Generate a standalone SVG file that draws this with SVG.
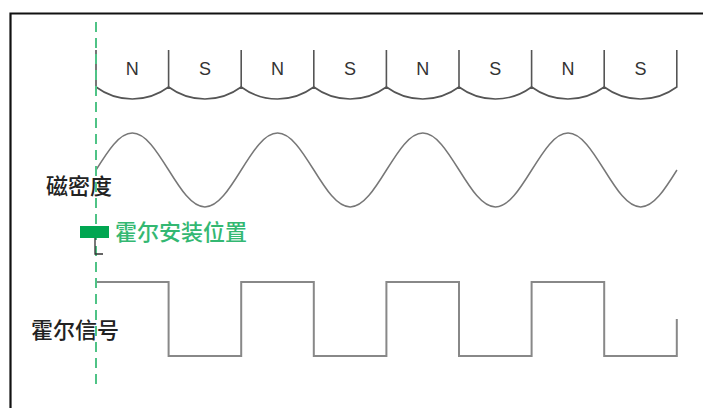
<svg xmlns="http://www.w3.org/2000/svg" width="703" height="408" viewBox="0 0 703 408">
<style>
.frame{stroke:#111;stroke-width:2.2;fill:none}
.mag{stroke:#555;stroke-width:1.6;fill:none}
.pole{font-family:"Liberation Sans",Arial,sans-serif;font-size:18px;fill:#333;text-anchor:middle}
.wave{stroke:#777;stroke-width:1.5;fill:none}
.sq{stroke:#888;stroke-width:2;fill:none}
.lbl{font-family:"Noto Sans CJK SC","Noto Sans",sans-serif;font-size:22px;font-weight:500;fill:#222}
.glbl{font-family:"Noto Sans CJK SC","Noto Sans",sans-serif;font-size:22px;font-weight:500;fill:#33b872}
.dash{stroke:#4fc386;stroke-width:2;stroke-dasharray:10 6;fill:none}
</style>
<rect width="703" height="408" fill="#fff"/>
<g id="frame">
<path class="frame" d="M10.5,408 V13.5 H703"/>
</g>
<g id="magnets">
<path class="mag" d="M96,50 V87 A61 61 0 0 0 168.6,87 A61 61 0 0 0 241.2,87 A61 61 0 0 0 313.8,87 A61 61 0 0 0 386.4,87 A61 61 0 0 0 459,87 A61 61 0 0 0 531.6,87 A61 61 0 0 0 604.2,87 A61 61 0 0 0 676.8,87 V50"/>
<path class="mag" d="M168.6,50 V87 M241.2,50 V87 M313.8,50 V87 M386.4,50 V87 M459,50 V87 M531.6,50 V87 M604.2,50 V87"/>
<text class="pole" x="132.3" y="75">N</text>
<text class="pole" x="204.9" y="75">S</text>
<text class="pole" x="277.5" y="75">N</text>
<text class="pole" x="350.1" y="75">S</text>
<text class="pole" x="422.7" y="75">N</text>
<text class="pole" x="495.3" y="75">S</text>
<text class="pole" x="567.9" y="75">N</text>
<text class="pole" x="640.5" y="75">S</text>
</g>
<g id="flux">
<path class="wave" d="M96,170 c11.85,-18.97 23.17,-37 36.31,-37 c13.14,0 24.46,18.03 36.31,37 c11.85,18.97 23.17,37 36.31,37 c13.14,0 24.46,-18.03 36.31,-37 c11.85,-18.97 23.17,-37 36.31,-37 c13.14,0 24.46,18.03 36.31,37 c11.85,18.97 23.17,37 36.31,37 c13.14,0 24.46,-18.03 36.31,-37 c11.85,-18.97 23.17,-37 36.31,-37 c13.14,0 24.46,18.03 36.31,37 c11.85,18.97 23.17,37 36.31,37 c13.14,0 24.46,-18.03 36.31,-37 c11.85,-18.97 23.17,-37 36.31,-37 c13.14,0 24.46,18.03 36.31,37 c11.85,18.97 23.17,37 36.31,37 c13.14,0 24.46,-18.03 36.31,-37"/>
<text class="lbl" x="46" y="194">磁密度</text>
</g>
<g id="hall-signal">
<path class="sq" d="M96,282 H168.6 V356 H241.2 V282 H313.8 V356 H386.4 V282 H459 V356 H531.6 V282 H604.2 V356 H676.8 V319"/>
<text class="lbl" x="31" y="338">霍尔信号</text>
</g>
<g id="connectors">
<path class="dash" d="M96,22 V386"/>
</g>
<g id="hall-sensor">
<rect x="80" y="226" width="29" height="12" fill="#00a651"/>
<path d="M95,238 V254 H103" stroke="#333" stroke-width="1.3" fill="none"/>
<text class="glbl" x="115" y="240">霍尔安装位置</text>
</g>
</svg>
